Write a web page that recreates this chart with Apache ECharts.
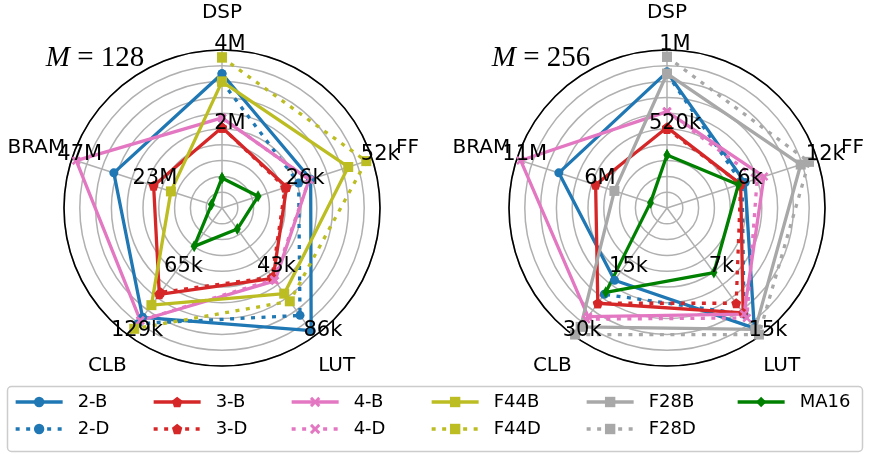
<!DOCTYPE html>
<html><head><meta charset="utf-8">
<script src="https://cdn.jsdelivr.net/npm/echarts@6/dist/echarts.min.js"></script>
<style>html,body{margin:0;padding:0;background:#fff}#c{width:871px;height:454px}</style>
</head><body><div id="c"></div>
<script>
// Axis order (clockwise from top)
const axisNames = ['DSP', 'FF', 'LUT', 'CLB', 'BRAM'];
// Tick labels at half and full radius, per axis
const ticks128 = [['2M', '4M'], ['26k', '52k'], ['43k', '86k'], ['65k', '129k'], ['23M', '47M']];
const ticks256 = [['520k', '1M'], ['6k', '12k'], ['7k', '15k'], ['15k', '30k'], ['6M', '11M']];

// Values as fraction of each axis maximum: DSP, FF, LUT, CLB, BRAM (null = not used)
// M = 128
const m128_2B  = [0.85, 0.59, 0.96, 0.855, 0.72];
const m128_2D  = [0.80, 0.51, 0.84, 0.905, null];
const m128_3B  = [0.51, 0.43, 0.55, 0.675, 0.455];
const m128_3D  = [0.51, 0.42, 0.54, 0.66, null];
const m128_4B  = [0.57, 0.58, 0.57, 0.88, 0.97];
const m128_4D  = [0.57, 0.58, 0.56, 0.88, null];
const m128_F44B = [0.80, 0.84, 0.67, 0.76, 0.34];
const m128_F44D = [0.953, 0.96, 0.73, 0.945, null];
const m128_MA16 = [0.19, 0.24, 0.165, 0.30, 0.07];
// M = 256
const m256_2B  = [0.86, 0.52, 0.94, 0.565, 0.72];
const m256_2D  = [0.85, 0.50, 0.83, 0.675, null];
const m256_3B  = [0.51, 0.49, 0.82, 0.745, 0.475];
const m256_3D  = [0.50, 0.49, 0.745, 0.745, null];
const m256_4B  = [0.61, 0.645, 0.83, 0.85, 0.974];
const m256_4D  = [0.61, 0.60, 0.86, 0.87, null];
const m256_F28B = [0.85, 0.89, 0.95, 0.93, 0.35];
const m256_F28D = [0.957, 0.945, 0.99, 0.99, null];
const m256_MA16 = [0.335, 0.475, 0.505, 0.66, 0.11];

const C = {blue:'#1f77b4', red:'#d62728', pink:'#e377c2', olive:'#bcbd22', gray:'#a8a8a8', green:'#008000'};
const PENT = 'path://M0,-1L0.951,-0.309L0.588,0.809L-0.588,0.809L-0.951,-0.309Z';
const XMARK = 'path://M2,0L5,3L8,0L10,2L7,5L10,8L8,10L5,7L2,10L0,8L3,5L0,2Z';

const styleOf = {
  '2-B': {color:C.blue, symbol:'circle', size:9, dotted:false},
  '2-D': {color:C.blue, symbol:'circle', size:9, dotted:true},
  '3-B': {color:C.red, symbol:PENT, size:10, dotted:false},
  '3-D': {color:C.red, symbol:PENT, size:10, dotted:true},
  '4-B': {color:C.pink, symbol:XMARK, size:9, dotted:false},
  '4-D': {color:C.pink, symbol:XMARK, size:9, dotted:true},
  'F44B': {color:C.olive, symbol:'rect', size:10, dotted:false},
  'F44D': {color:C.olive, symbol:'rect', size:10, dotted:true},
  'F28B': {color:C.gray, symbol:'rect', size:10, dotted:false},
  'F28D': {color:C.gray, symbol:'rect', size:10, dotted:true},
  'MA16': {color:C.green, symbol:'diamond', size:[7,12], dotted:false}
};

const chart128 = [['2-B', m128_2B], ['2-D', m128_2D], ['3-B', m128_3B], ['3-D', m128_3D], ['4-B', m128_4B], ['4-D', m128_4D], ['F44B', m128_F44B], ['F44D', m128_F44D], ['MA16', m128_MA16]];
const chart256 = [['2-B', m256_2B], ['2-D', m256_2D], ['3-B', m256_3B], ['3-D', m256_3D], ['4-B', m256_4B], ['4-D', m256_4D], ['F28B', m256_F28B], ['F28D', m256_F28D], ['MA16', m256_MA16]];

const step = 360 / axisNames.length;
function lineSeries(name, vals, p) {
  const s = styleOf[name];
  const data = vals.map((v, i) => [v, i * step]);
  data.push([vals[0], 360]);
  return {
    type:'line', name, coordinateSystem:'polar', polarIndex:p, data,
    symbol:s.symbol, symbolSize:s.size, showSymbol:true, showAllSymbol:true,
    connectNulls:false, silent:true, z:2, clip:false,
    itemStyle:{color:s.color},
    lineStyle:{color:s.color, width:3.3, type: s.dotted ? [4, 6.5] : 'solid', cap:'butt'},
    emphasis:{disabled:true}
  };
}
const txt = {color:'#000000', opacity:1, textBorderWidth:0, fontFamily:'DejaVu Sans'};
function labelSeries(ticks, p) {
  const data = [];
  ticks.forEach((t, i) => {
    data.push({value:[0.5, i * step], label:{formatter:t[0]}});
    data.push({value:[1.0, i * step], label:{formatter:t[1]}});
  });
  return {type:'scatter', coordinateSystem:'polar', polarIndex:p, symbolSize:0, silent:true, z:6, clip:false, data,
    itemStyle:{opacity:1},
    label:Object.assign({show:true, position:'inside', offset:[8,-5], fontSize:21}, txt)};
}
function nameSeries(p) {
  return {type:'scatter', coordinateSystem:'polar', polarIndex:p, symbolSize:0, silent:true, z:6, clip:false,
    itemStyle:{opacity:1},
    data: axisNames.map((n, i) => ({value:[1.235, i * step], label:{formatter:n}})),
    label:Object.assign({show:true, position:'inside', fontSize:20}, txt)};
}

const series = [];
chart128.forEach(([n, v]) => series.push(lineSeries(n, v, 0)));
chart256.forEach(([n, v]) => series.push(lineSeries(n, v, 1)));
series.push(labelSeries(ticks128, 0), labelSeries(ticks256, 1), nameSeries(0), nameSeries(1));

const legendCols = [['2-B','2-D'],['3-B','3-D'],['4-B','4-D'],['F44B','F44D'],['F28B','F28D'],['MA16']];
const legendLeft = [14, 152, 290, 430, 585, 736];

const option = {
  animation:false,
  polar:[{center:[222,208], radius:158}, {center:[667,208], radius:158}],
  angleAxis:[0,1].map(i => ({polarIndex:i, type:'value', min:0, max:360, interval:step, startAngle:90, clockwise:true, z:1,
    axisLine:{show:true, lineStyle:{color:'#000', width:1.6}}, axisTick:{show:false}, axisLabel:{show:false},
    splitLine:{show:true, lineStyle:{color:'#b0b0b0', width:1.5}}})),
  radiusAxis:[0,1].map(i => ({polarIndex:i, type:'value', min:0, max:1, interval:0.1, z:0,
    axisLine:{show:false}, axisTick:{show:false}, axisLabel:{show:false},
    splitLine:{show:true, lineStyle:{color:'#b0b0b0', width:1.5}}})),
  legend: legendCols.map((d, i) => ({data:d, left:legendLeft[i], top:393, orient:'vertical', padding:0,
    itemWidth:47, itemHeight:13, itemGap:9, selectedMode:false,
    lineStyle:{width:3.3},
    textStyle:{fontSize:18, fontFamily:'DejaVu Sans', color:'#000000', padding:[0,0,0,10]}})),
  graphic:[
    {type:'rect', z:0, shape:{x:7.5, y:386.5, width:855, height:65, r:4}, style:{fill:'#fff', stroke:'#cccccc', lineWidth:1.5}},
    {type:'text', z:10, style:{x:95, y:58, text:'{i|M} = 128', align:'center', verticalAlign:'middle', fill:'#000',
      fontFamily:'Liberation Serif', fontSize:29, rich:{i:{fontStyle:'italic', fontFamily:'Liberation Serif', fontSize:29}}}},
    {type:'text', z:10, style:{x:541, y:58, text:'{i|M} = 256', align:'center', verticalAlign:'middle', fill:'#000',
      fontFamily:'Liberation Serif', fontSize:29, rich:{i:{fontStyle:'italic', fontFamily:'Liberation Serif', fontSize:29}}}}
  ],
  series
};
const chart = echarts.init(document.getElementById('c'), null, {renderer:'canvas'});
chart.setOption(option);
</script></body></html>
